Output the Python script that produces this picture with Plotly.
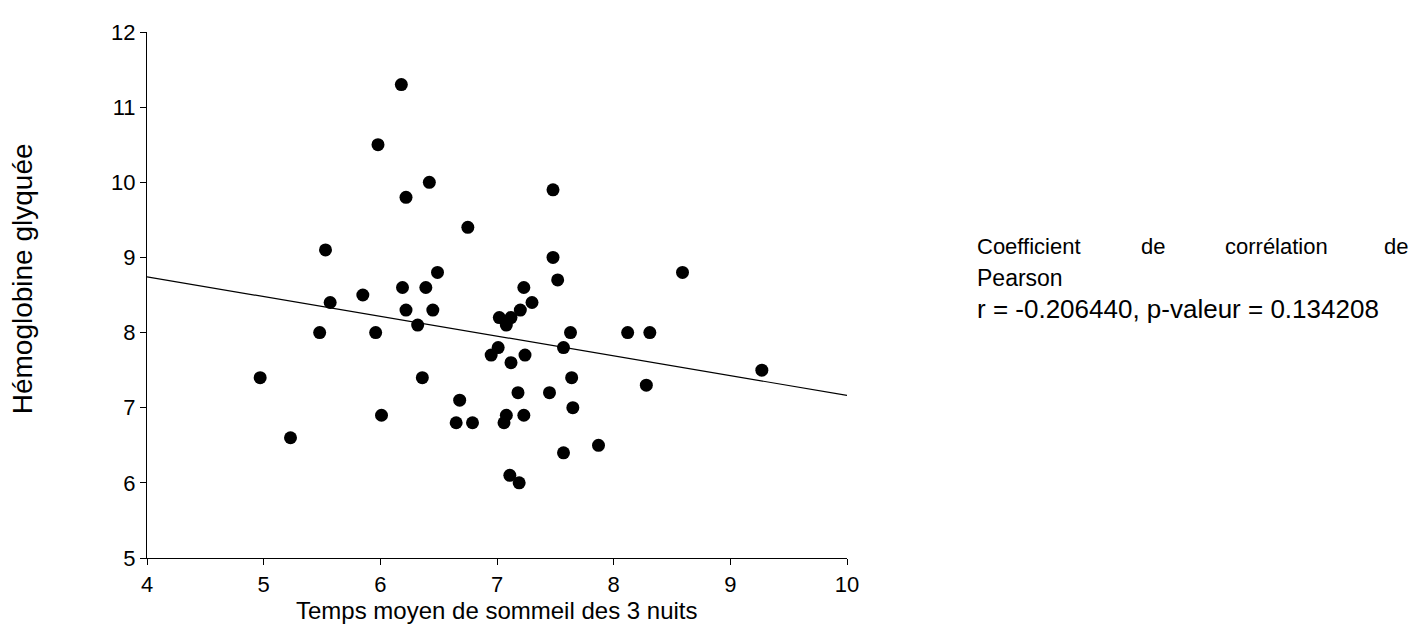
import numpy as np
import plotly.graph_objects as go

# Data
sleep_hours = [4.97, 5.23, 5.48, 5.53, 5.57, 5.85, 5.96, 5.98, 6.01, 6.18,
               6.19, 6.22, 6.22, 6.32, 6.36, 6.39, 6.42, 6.45, 6.49, 6.65,
               6.68, 6.75, 6.79, 6.95, 7.01, 7.02, 7.06, 7.08, 7.08, 7.11,
               7.12, 7.12, 7.18, 7.19, 7.20, 7.23, 7.23, 7.24, 7.30, 7.45,
               7.48, 7.48, 7.52, 7.57, 7.57, 7.63, 7.64, 7.65, 7.87, 8.12,
               8.28, 8.31, 8.59, 9.27]
hba1c = [7.4, 6.6, 8.0, 9.1, 8.4, 8.5, 8.0, 10.5, 6.9, 11.3,
         8.6, 9.8, 8.3, 8.1, 7.4, 8.6, 10.0, 8.3, 8.8, 6.8,
         7.1, 9.4, 6.8, 7.7, 7.8, 8.2, 6.8, 6.9, 8.1, 6.1,
         8.2, 7.6, 7.2, 6.0, 8.3, 8.6, 6.9, 7.7, 8.4, 7.2,
         9.9, 9.0, 8.7, 7.8, 6.4, 8.0, 7.4, 7.0, 6.5, 8.0,
         7.3, 8.0, 8.8, 7.5]
x_ticks = [4, 5, 6, 7, 8, 9, 10]
y_ticks = [5, 6, 7, 8, 9, 10, 11, 12]
x_range = [4, 10]
y_range = [5, 12]
x_title = "Temps moyen de sommeil des 3 nuits"
y_title = "Hémoglobine glyquée"
stat_line1 = ["Coefficient", "de", "corrélation", "de"]
stat_line2 = "Pearson"
stat_line3 = "r = -0.206440, p-valeur = 0.134208"

# Regression line from the data
slope, intercept = np.polyfit(sleep_hours, hba1c, 1)
fit_x = np.array(x_range, dtype=float)
fit_y = slope * fit_x + intercept

FONT = "Liberation Sans, Arial, sans-serif"

fig = go.Figure()
fig.add_trace(go.Scatter(
    x=sleep_hours, y=hba1c, mode="markers",
    marker=dict(color="black", size=13, line=dict(width=0)),
    showlegend=False, cliponaxis=False,
))
fig.add_trace(go.Scatter(
    x=fit_x, y=fit_y, mode="lines",
    line=dict(color="black", width=1.2),
    showlegend=False,
))

# page has an 8px body margin
OFF = 8
W, H = 1406, 618
L, T = 139, 14
PW, PH = 700, 536
R = W - L - PW
B = H - T - PH


def px(sx):
    return (sx - OFF - L) / PW


def py(sy):
    return (H - B - (sy - OFF)) / PH


fig.update_layout(
    width=W, height=H,
    margin=dict(l=L, r=R, t=T, b=B, pad=0),
    plot_bgcolor="white", paper_bgcolor="white",
    font=dict(family=FONT, size=22, color="black"),
    xaxis=dict(
        range=x_range, tickvals=x_ticks, showgrid=False, zeroline=False,
        showline=True, linecolor="black", linewidth=1.2,
        ticks="outside", ticklen=6, tickwidth=1.2, tickcolor="black",
        tickfont=dict(size=22),
    ),
    yaxis=dict(
        range=y_range, tickvals=y_ticks, showgrid=False, zeroline=False,
        showline=True, linecolor="black", linewidth=1.2,
        ticks="outside", ticklen=6, tickwidth=1.2, tickcolor="black",
        tickfont=dict(size=22),
    ),
)

# axis titles
fig.add_annotation(xref="paper", yref="paper", x=px(497), y=py(611),
                   text=x_title, showarrow=False, xanchor="center",
                   yanchor="middle", font=dict(size=24))
fig.add_annotation(xref="paper", yref="paper", x=px(22), y=py(274),
                   text=y_title, showarrow=False, xanchor="center",
                   yanchor="middle", textangle=-90, font=dict(size=28))

# justified first line of the statistics note
word_x = [975, 1139, 1223, 1410]
word_anchor = ["left", "left", "left", "right"]
for txt, xp, anc in zip(stat_line1, word_x, word_anchor):
    fig.add_annotation(xref="paper", yref="paper", x=px(xp), y=py(241),
                       text=txt, showarrow=False, xanchor=anc, yanchor="middle",
                       font=dict(size=22))
fig.add_annotation(xref="paper", yref="paper", x=px(975), y=py(273),
                   text=stat_line2, showarrow=False, xanchor="left",
                   yanchor="middle", font=dict(size=23))
fig.add_annotation(xref="paper", yref="paper", x=px(975), y=py(304),
                   text=stat_line3, showarrow=False, xanchor="left",
                   yanchor="middle", font=dict(size=26))

fig.write_html("out.html")
